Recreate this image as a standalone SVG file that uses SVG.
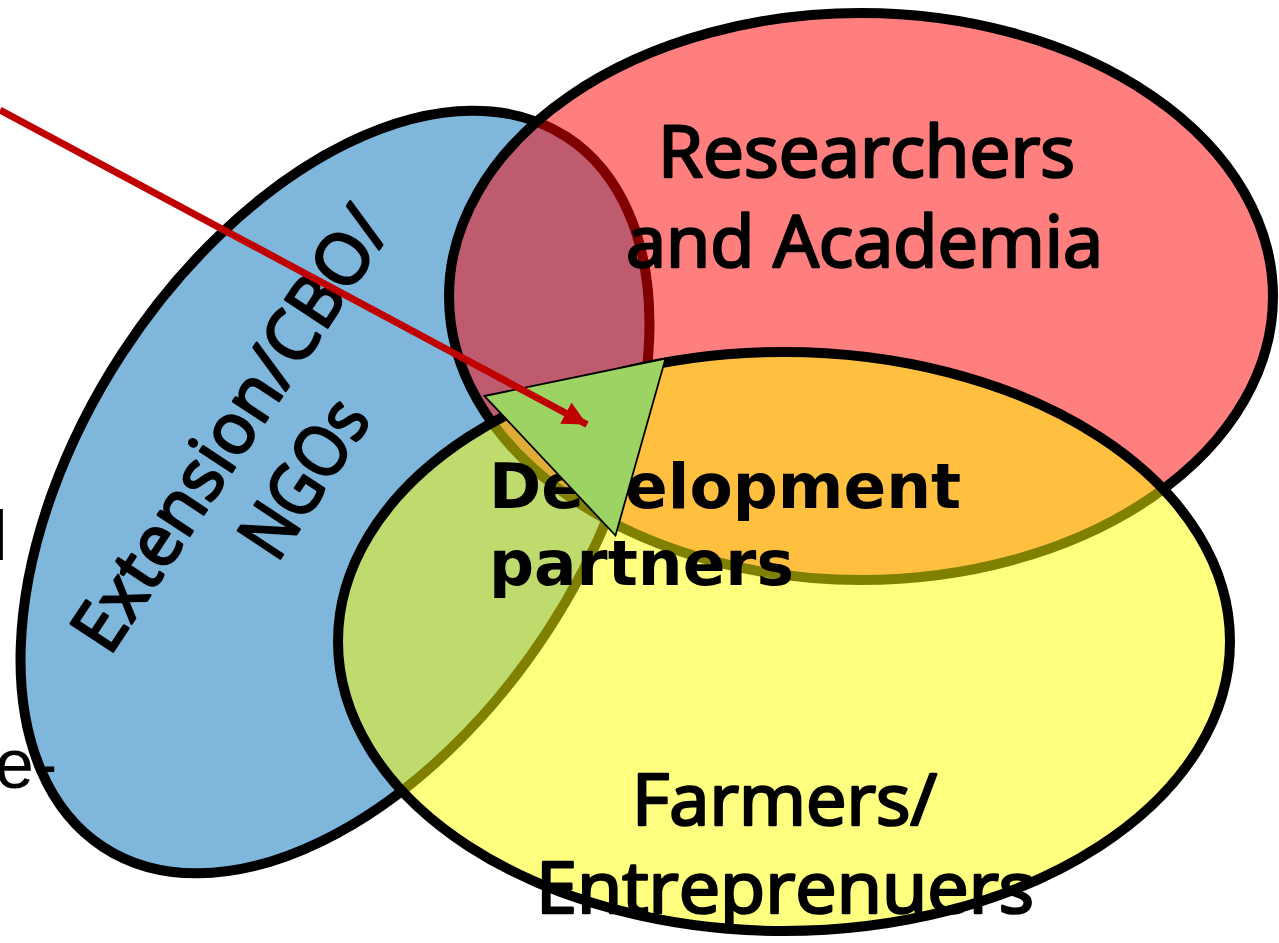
<svg xmlns="http://www.w3.org/2000/svg" width="1279" height="943" viewBox="0 0 1279 943">
  <style>
    .ell { stroke: #000; stroke-width: 10; }
    .lbl { font-family: "Open Sans", "Liberation Sans", sans-serif; font-weight: normal; font-size: 71px; fill: #000; stroke: #000; stroke-width: 2.6px; stroke-linejoin: round; }
    .dev { font-family: "DejaVu Sans", "Liberation Sans", sans-serif; font-weight: bold; font-size: 63px; fill: #000; }
    .frag { font-family: "Liberation Sans", sans-serif; font-size: 70px; fill: #000; }
  </style>
  <defs>
    <marker id="ah" markerUnits="userSpaceOnUse" markerWidth="26" markerHeight="26" refX="24" refY="12" orient="auto">
      <path d="M0,0 L24,12 L0,24 z" fill="#C00000"/>
    </marker>
  </defs>
  <rect width="1279" height="943" fill="#fff"/>

  <g id="extension">
    <ellipse class="ell" cx="335" cy="492" rx="424" ry="254" fill="#7FB6DC" transform="rotate(-56.9 335 492)"/>
  </g>
  <g id="researchers">
    <ellipse class="ell" cx="861" cy="296.5" rx="412" ry="283.5" fill="#FF0000" fill-opacity="0.5"/>
  </g>
  <g id="farmers">
    <ellipse class="ell" cx="784" cy="641.5" rx="446" ry="289.5" fill="#FFFF00" fill-opacity="0.5"/>
  </g>

  <g id="labels">
    <text class="lbl" x="658" y="177" textLength="417" lengthAdjust="spacingAndGlyphs">Researchers</text>
    <text class="lbl" x="626" y="267" textLength="477" lengthAdjust="spacingAndGlyphs">and Academia</text>
    <text class="lbl" x="632" y="825" textLength="305" lengthAdjust="spacingAndGlyphs">Farmers/</text>
    <text class="lbl" x="536" y="913" textLength="498" lengthAdjust="spacingAndGlyphs">Entreprenuers</text>
    <g transform="translate(251,443) rotate(-56.5)">
      <text class="lbl" x="0" y="0" text-anchor="middle" textLength="514" lengthAdjust="spacingAndGlyphs">Extension/CBO/</text>
      <text class="lbl" x="0" y="88" text-anchor="middle" textLength="173" lengthAdjust="spacingAndGlyphs">NGOs</text>
    </g>
  </g>

  <g id="fragments">
    <text class="frag" x="-8" y="560">l</text>
    <text class="frag" x="-5" y="788">e-</text>
  </g>

  <g id="development">
    <text class="dev" x="489" y="508">Development</text>
    <text class="dev" x="489" y="585">partners</text>
    <polygon points="484.5,396 665.5,358.5 615.5,535.5" fill="#9DD362" stroke="#000" stroke-width="1.8" stroke-linejoin="miter"/>
  </g>

  <g id="connectors">
    <line x1="0" y1="110" x2="587" y2="424.5" stroke="#C00000" stroke-width="7" marker-end="url(#ah)"/>
  </g>
</svg>
